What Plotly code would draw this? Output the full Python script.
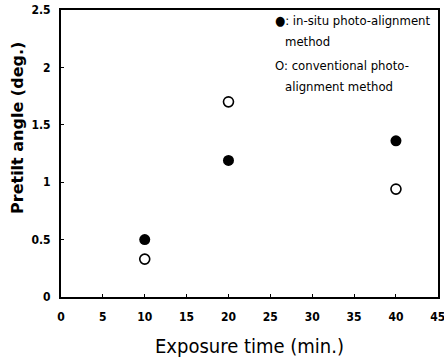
import plotly.graph_objects as go

exposure_time = [10, 20, 40]
in_situ = [0.50, 1.19, 1.36]
conventional = [0.33, 1.70, 0.94]
x_ticks = [0, 5, 10, 15, 20, 25, 30, 35, 40, 45]
y_ticks = [0, 0.5, 1, 1.5, 2, 2.5]
y_tick_text = ["0", "0.5", "1", "1.5", "2", "2.5"]
legend_lines = ["●: in-situ photo-alignment", "method",
                "O: conventional photo-", "alignment method"]

narrow = "DejaVu Sans Condensed, Liberation Sans Narrow, sans-serif"

fig = go.Figure()
fig.add_trace(go.Scatter(
    x=exposure_time, y=in_situ, mode="markers",
    marker=dict(symbol="circle", size=11, color="black", line=dict(color="black", width=0)),
    showlegend=False, hoverinfo="skip"))
fig.add_trace(go.Scatter(
    x=exposure_time, y=conventional, mode="markers",
    marker=dict(symbol="circle-open", size=10, color="black", line=dict(color="black", width=1.6)),
    showlegend=False, hoverinfo="skip"))

fig.update_layout(
    width=444, height=361,
    margin=dict(l=61, r=6, t=10, b=64),
    paper_bgcolor="white", plot_bgcolor="white",
    font=dict(family=narrow, color="black"),
    xaxis=dict(range=[0, 45.02], tickvals=x_ticks, ticktext=[str(v) for v in x_ticks],
               automargin=False, ticklabeloverflow="allow",
               showgrid=False, zeroline=False, showline=True, mirror=True,
               linecolor="black", linewidth=2, ticks="inside", ticklen=3, tickcolor="black",
               ticklabelstandoff=8,
               tickfont=dict(family=narrow, size=12, color="black", weight="bold"),
               title=dict(text="Exposure time (min.)", font=dict(family=narrow, size=20, color="black"), standoff=16)),
    yaxis=dict(range=[0, 2.5], tickvals=y_ticks, ticktext=y_tick_text,
               automargin=False, ticklabeloverflow="allow",
               showgrid=False, zeroline=False, showline=True, mirror=True,
               linecolor="black", linewidth=2, ticks="inside", ticklen=3, tickcolor="black",
               ticklabelstandoff=6,
               tickfont=dict(family=narrow, size=12, color="black", weight="bold")),
)

# y-axis title (placed as annotation to match the original offset)
fig.add_annotation(xref="paper", yref="paper", x=-0.114, y=0.589, xanchor="center", yanchor="middle",
                   textangle=-90, showarrow=False, text="Pretilt angle (deg.)",
                   font=dict(family="DejaVu Sans, sans-serif", size=16, color="black", weight="bold"))

legend_x = [0.562, 0.589, 0.562, 0.589]
legend_y = [0.965, 0.889, 0.805, 0.732]
for txt, lx, ly in zip(legend_lines, legend_x, legend_y):
    fig.add_annotation(xref="paper", yref="paper", x=lx, y=ly, xanchor="left", yanchor="middle",
                       align="left", showarrow=False, text=txt,
                       font=dict(family=narrow, size=13, color="black"))

fig.write_html("out.html", config={"displayModeBar": False},
               post_script="document.body.style.margin='0';")
